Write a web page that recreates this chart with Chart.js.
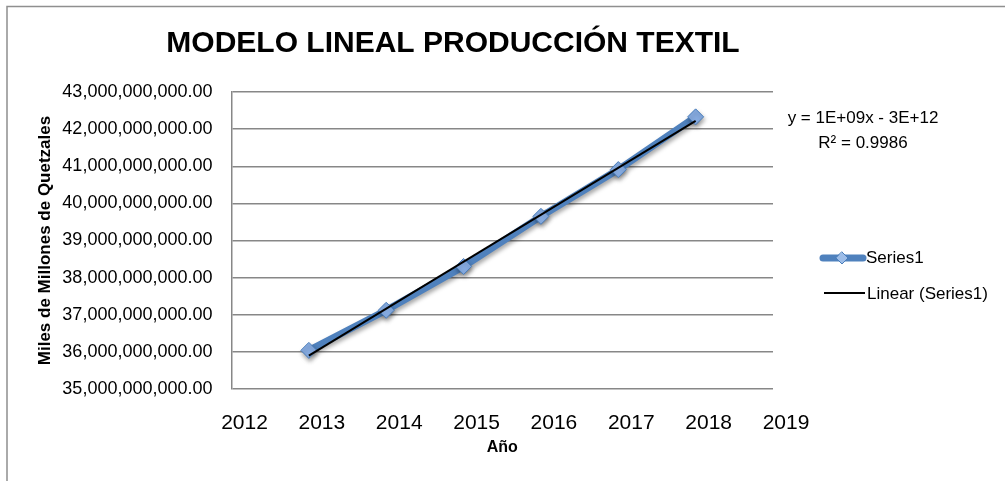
<!DOCTYPE html>
<html>
<head>
<meta charset="utf-8">
<script src="https://cdn.jsdelivr.net/npm/chart.js@4.4.0/dist/chart.umd.min.js"></script>
<style>
  html, body { margin: 0; padding: 0; background: #fff; }
  canvas { display: block; }
</style>
</head>
<body>
<canvas id="grafica" width="1005" height="481"></canvas>
<script>
(function () {
    'use strict'

    const anios = [2013, 2014, 2015, 2016, 2017, 2018];
    const produccion = [36.04e9, 37.12e9, 38.30e9, 39.65e9, 40.91e9, 42.33e9];
    // linea de tendencia (extremos)
    const tendenciaAnios = [2013, 2018];
    const tendenciaValores = [35.90e9, 42.22e9];
    const ticksAnio = [2012, 2013, 2014, 2015, 2016, 2017, 2018, 2019];
    const titulo = 'MODELO LINEAL PRODUCCIÓN TEXTIL';
    const ecuacion = ['y = 1E+09x - 3E+12', 'R² = 0.9986'];
    const leyenda = ['Series1', 'Linear (Series1)'];

    const fuente = '"Liberation Sans", Arial, sans-serif';
    Chart.defaults.font.family = fuente;
    Chart.defaults.color = '#000';

    const fondo = {
        id: 'fondo',
        beforeDraw(chart) {
            const ctx = chart.ctx;
            ctx.save();
            ctx.fillStyle = '#fff';
            ctx.fillRect(0, 0, chart.width, chart.height);
            ctx.strokeStyle = '#8f8f8f';
            ctx.lineWidth = 1.5;
            ctx.strokeRect(7, 6.5, chart.width + 20, chart.height + 20);
            ctx.restore();
        }
    };

    // sombra suave bajo la serie, como en Excel
    const sombra = {
        id: 'sombra',
        beforeDatasetDraw(chart, args) {
            if (args.index !== 1) return;
            const ctx = chart.ctx;
            ctx.save();
            ctx.shadowColor = 'rgba(0,0,0,0.35)';
            ctx.shadowBlur = 4;
            ctx.shadowOffsetX = 1;
            ctx.shadowOffsetY = 3;
        },
        afterDatasetDraw(chart, args) {
            if (args.index !== 1) return;
            chart.ctx.restore();
        }
    };

    const textos = {
        id: 'textos',
        afterDraw(chart) {
            const ctx = chart.ctx;
            ctx.save();
            ctx.fillStyle = '#000';
            ctx.textAlign = 'center';
            ctx.textBaseline = 'alphabetic';
            ctx.font = 'bold 30px ' + fuente;
            ctx.fillText(titulo, 453, 51.5);

            ctx.font = '17px ' + fuente;
            ctx.fillText(ecuacion[0], 863, 123);
            ctx.fillText(ecuacion[1], 863, 148);

            // leyenda
            ctx.lineCap = 'round';
            ctx.strokeStyle = '#4f81bd';
            ctx.lineWidth = 7;
            ctx.beginPath();
            ctx.moveTo(823, 258);
            ctx.lineTo(863, 258);
            ctx.stroke();
            ctx.beginPath();
            ctx.moveTo(842, 252);
            ctx.lineTo(848, 258);
            ctx.lineTo(842, 264);
            ctx.lineTo(836, 258);
            ctx.closePath();
            ctx.fillStyle = '#9dbde8';
            ctx.fill();
            ctx.lineWidth = 1;
            ctx.strokeStyle = '#4a7ebb';
            ctx.stroke();

            ctx.lineCap = 'butt';
            ctx.strokeStyle = '#000';
            ctx.lineWidth = 2;
            ctx.beginPath();
            ctx.moveTo(824, 293);
            ctx.lineTo(865, 293);
            ctx.stroke();

            ctx.fillStyle = '#000';
            ctx.textAlign = 'left';
            ctx.textBaseline = 'middle';
            ctx.fillText(leyenda[0], 866, 258);
            ctx.fillText(leyenda[1], 867, 294);
            ctx.restore();
        }
    };

    let ctx = document.getElementById('grafica');
    new Chart(ctx, {
        type: 'line',
        data: {
            datasets: [{
                label: leyenda[1],
                data: tendenciaAnios.map((x, i) => ({ x: x, y: tendenciaValores[i] })),
                borderColor: '#000',
                borderWidth: 2,
                pointRadius: 0
            }, {
                label: leyenda[0],
                data: anios.map((x, i) => ({ x: x, y: produccion[i] })),
                borderColor: '#4f81bd',
                borderWidth: 7,
                pointStyle: 'rectRot',
                pointRadius: 8,
                pointBackgroundColor: '#86abe0',
                pointBorderColor: '#4a7ebb',
                pointBorderWidth: 1
            }]
        },
        options: {
            responsive: false,
            animation: false,
            layout: {
                padding: { top: 92, right: 232, left: 0, bottom: 0 }
            },
            plugins: {
                legend: { display: false },
                tooltip: { enabled: false },
                title: { display: false }
            },
            scales: {
                x: {
                    type: 'linear',
                    min: 2012,
                    max: 2019,
                    afterBuildTicks(s) {
                        s.ticks = ticksAnio.map(v => ({ value: v }));
                    },
                    afterFit(s) { s.height = 92; },
                    grid: { display: false },
                    border: { display: false },
                    ticks: {
                        font: { size: 21 },
                        padding: 14,
                        labelOffset: 13,
                        maxRotation: 0,
                        autoSkip: false,
                        callback: v => String(v)
                    },
                    title: {
                        display: true,
                        text: 'Año',
                        font: { size: 16, weight: 'bold' },
                        padding: { top: 0, bottom: 24 }
                    }
                },
                y: {
                    min: 35e9,
                    max: 43e9,
                    afterFit(s) { s.width = 231.5; },
                    grid: { color: '#878787', lineWidth: 1.5, drawTicks: false },
                    border: { color: '#878787', width: 1.5 },
                    ticks: {
                        stepSize: 1e9,
                        font: { size: 18 },
                        padding: 19,
                        callback: v => v.toLocaleString('en-US', { minimumFractionDigits: 2, maximumFractionDigits: 2 })
                    },
                    title: {
                        display: true,
                        text: 'Miles de Millones de Quetzales',
                        font: { size: 17, weight: 'bold' },
                        padding: { top: 35, bottom: 0 }
                    }
                }
            }
        },
        plugins: [fondo, sombra, textos]
    });
})()
</script>
</body>
</html>
